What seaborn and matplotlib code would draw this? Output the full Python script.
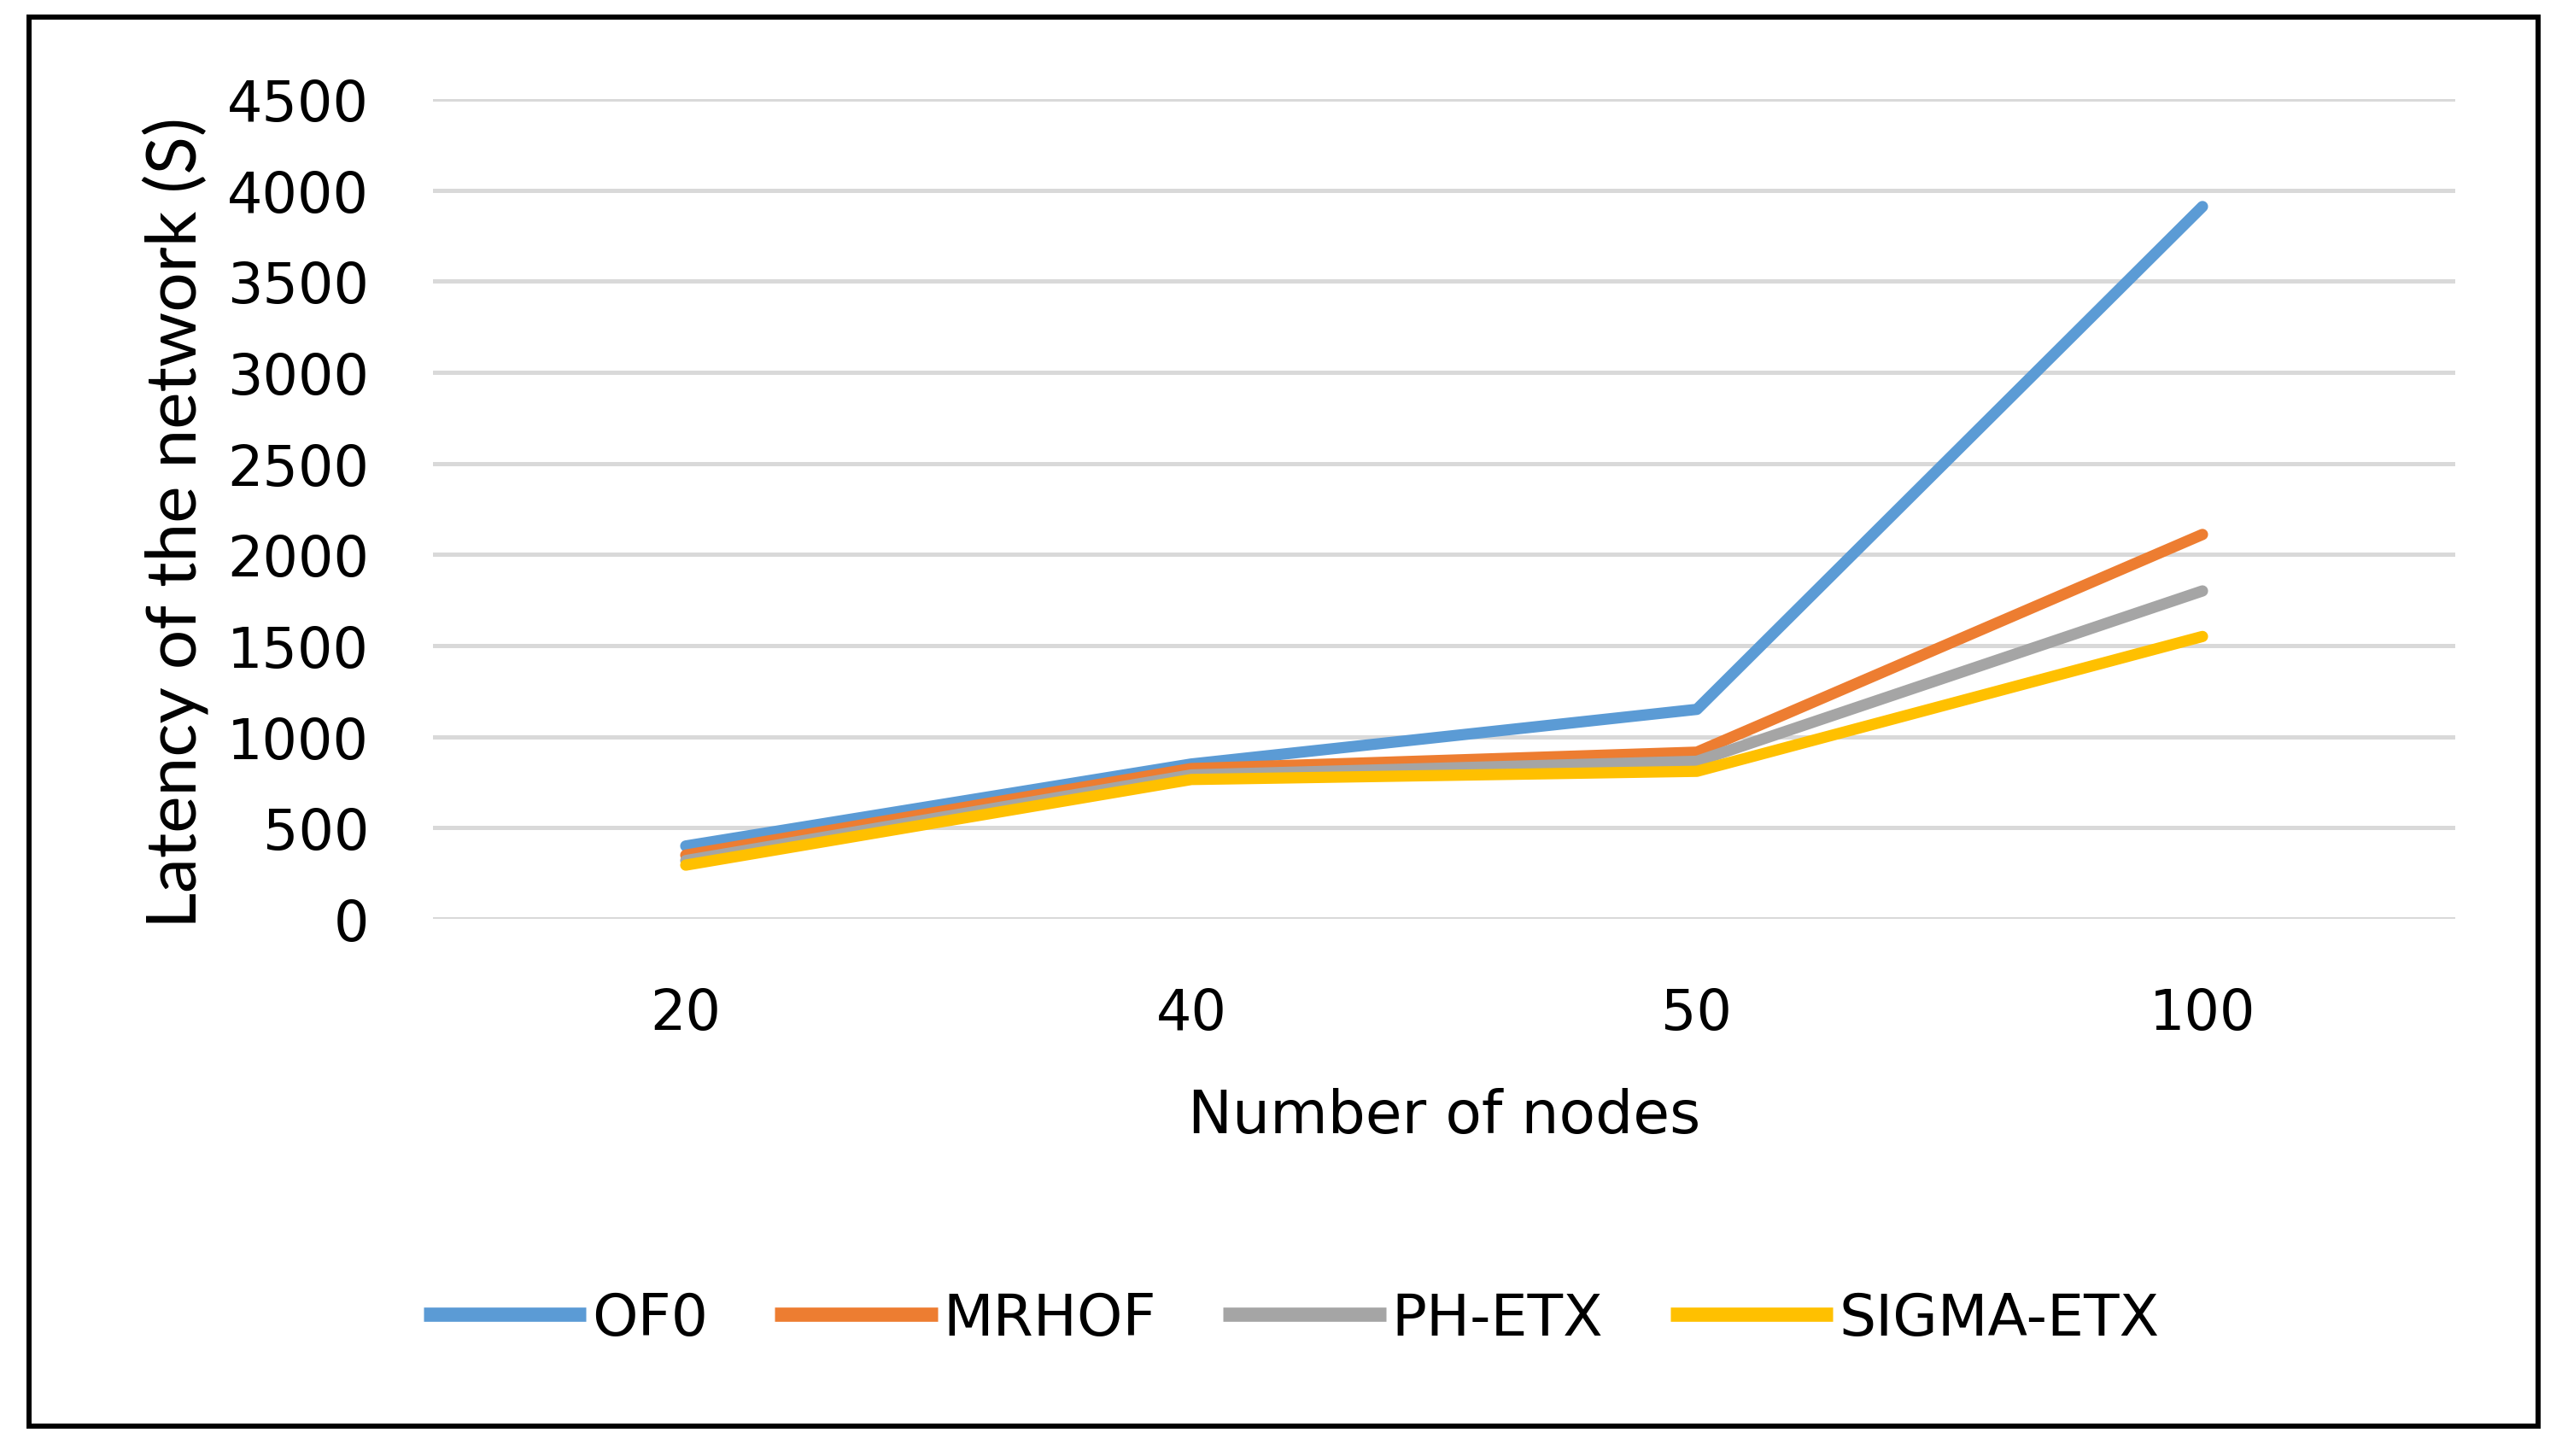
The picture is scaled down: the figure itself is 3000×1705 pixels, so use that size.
import matplotlib
matplotlib.use("Agg")
import matplotlib.pyplot as plt
from matplotlib.patches import Rectangle
import pandas as pd
import seaborn as sns

# ---- data ----
nodes = ["20", "40", "50", "100"]
of0 = [400, 850, 1150, 3910]
mrhof = [350, 825, 915, 2110]
ph_etx = [320, 790, 865, 1800]
sigma_etx = [295, 765, 810, 1550]
series_names = ["OF0", "MRHOF", "PH-ETX", "SIGMA-ETX"]
colors = ["#5B9BD5", "#ED7D31", "#A5A5A5", "#FFC000"]
y_ticks = [0, 500, 1000, 1500, 2000, 2500, 3000, 3500, 4000, 4500]

df = pd.concat([
    pd.DataFrame({"nodes": nodes, "latency": vals, "series": name})
    for name, vals in zip(series_names, [of0, mrhof, ph_etx, sigma_etx])
], ignore_index=True)

sns.set_theme(style="white")
plt.rcParams["font.family"] = ["DejaVu Sans"]
plt.rcParams["text.color"] = "black"

W, H = 3000, 1706
fig = plt.figure(figsize=(W / 100, H / 100), dpi=100)
ax = fig.add_axes([507 / W, 1 - 1077 / H, 2368 / W, 960 / H])

sns.lineplot(data=df, x="nodes", y="latency", hue="series",
             hue_order=series_names, palette=colors, sort=False,
             linewidth=9.5, ax=ax, legend=True, zorder=3)

ax.set_xlim(-0.5, 3.5)
ax.set_ylim(0, 4500)
ax.set_yticks(y_ticks)
ax.set_yticklabels([str(v) for v in y_ticks])
ax.yaxis.grid(True, color="#D9D9D9", linewidth=3.6)
ax.xaxis.grid(False)
ax.set_axisbelow(True)
for s in ax.spines.values():
    s.set_visible(False)
ax.tick_params(axis="y", length=0, pad=54, labelsize=47, labelcolor="black")
ax.tick_params(axis="x", length=0, pad=57, labelsize=47, labelcolor="black")

ax.set_xlabel("Number of nodes", fontsize=50, color="black", labelpad=39)
ax.set_ylabel("Latency of the network (S)", fontsize=59, color="black",
              family=["Lato", "DejaVu Sans"])
ax.yaxis.set_label_coords((244 - 507) / 2368, (1077 - 612) / 960)

handles, labels = ax.get_legend_handles_labels()
ax.get_legend().remove()
leg = fig.legend(handles, labels, loc="center", bbox_to_anchor=(1512 / W, 1 - 1545 / H),
                 ncol=4, frameon=False, fontsize=49, handlelength=2.8,
                 handletextpad=0.1, columnspacing=1.15, labelcolor="black")
for line in leg.get_lines():
    line.set_linewidth(12)
    line.set_solid_capstyle("butt")

fig.patches.append(Rectangle((34 / W, 1 - 1671 / H), (2972 - 34) / W, (1671 - 21) / H,
                             transform=fig.transFigure, fill=False,
                             edgecolor="black", linewidth=4.3))

fig.savefig("out.png", dpi=100, facecolor="white")
